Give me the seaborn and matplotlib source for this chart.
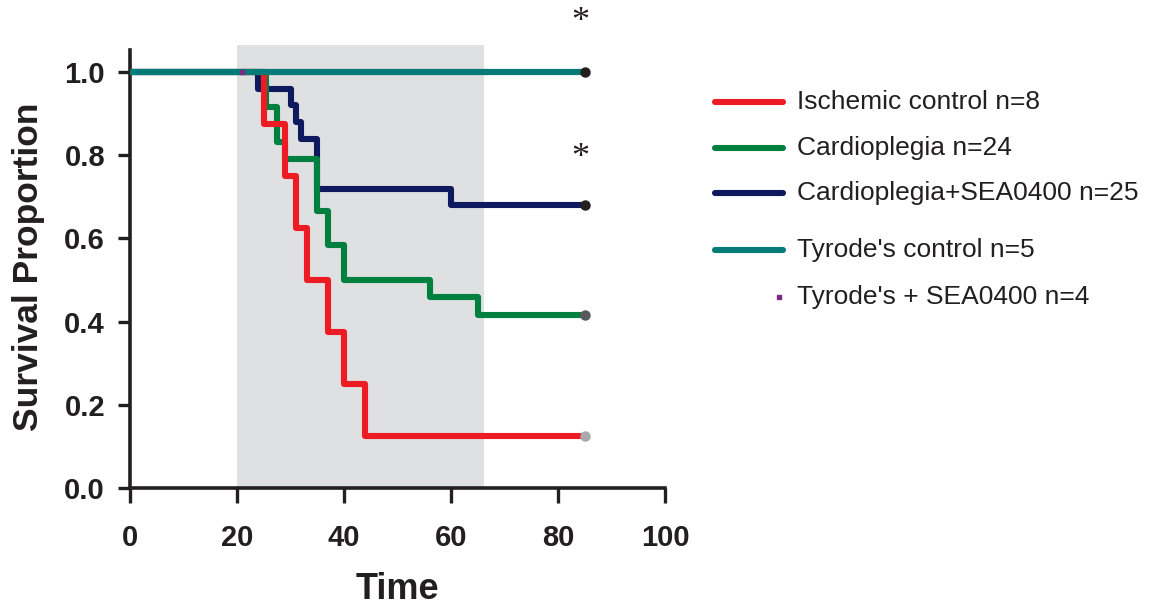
import matplotlib
matplotlib.use("Agg")
import matplotlib.pyplot as plt
from matplotlib.lines import Line2D
import seaborn as sns
import pandas as pd

# ---- data ----
groups = ["Ischemic control n=8", "Cardioplegia n=24", "Cardioplegia+SEA0400 n=25",
          "Tyrode's control n=5", "Tyrode's + SEA0400 n=4"]
isch_t = [0, 25, 29, 31, 33, 37, 40, 44, 85]
isch_s = [1.0, 0.875, 0.75, 0.625, 0.5, 0.375, 0.25, 0.125, 0.125]
card_t = [0, 25.5, 27.5, 29, 35, 37, 40, 56, 65, 85]
card_s = [1.0, 0.917, 0.833, 0.792, 0.667, 0.583, 0.5, 0.458, 0.417, 0.417]
sea_t = [0, 24, 30, 31, 32, 35, 60, 85]
sea_s = [1.0, 0.96, 0.92, 0.88, 0.84, 0.72, 0.68, 0.68]
tyr_t = [0, 85]
tyr_s = [1.0, 1.0]
tyrsea_t = [0, 85]
tyrsea_s = [1.0, 1.0]
tyrsea_censor_t = [21]
tyrsea_censor_s = [1.0]
shade_range = [20, 66.2]
x_ticks = [0, 20, 40, 60, 80, 100]
y_ticks = [0.0, 0.2, 0.4, 0.6, 0.8, 1.0]
star_x = [84.1, 84.1]
star_y = [1.12, 0.793]

colors = ["#ED1C24", "#00803F", "#0F1A5E", "#037B77", "#7B2A80"]
end_colors = ["#A7A9AC", "#58595B", "#231F20", "#231F20"]

sns.set_style("ticks")
plt.rcParams['font.family'] = ['Liberation Sans', 'DejaVu Sans']

fig = plt.figure(figsize=(11.53, 6.05), dpi=100)
W, H = 1153, 605
ax = fig.add_axes([130 / W, 1 - 488 / H, 535 / W, (488 - 45) / H])

ax.axvspan(shade_range[0], shade_range[1], color="#DFE0E2", lw=0, zorder=0)

lw = 4.4
series = [(isch_t, isch_s), (card_t, card_s), (sea_t, sea_s), (tyr_t, tyr_s)]
# purple line beneath teal
df = pd.DataFrame({"t": tyrsea_t, "s": tyrsea_s})
sns.lineplot(data=df, x="t", y="s", ax=ax, color=colors[4], lw=lw,
             drawstyle="steps-post", estimator=None, sort=False, zorder=2)
zorders = [5, 4, 3, 6]
for i, (t, s) in enumerate(series):
    df = pd.DataFrame({"t": t, "s": s})
    sns.lineplot(data=df, x="t", y="s", ax=ax, color=colors[i], lw=lw,
                 drawstyle="steps-post", estimator=None, sort=False, zorder=zorders[i])
    ax.plot([t[-1]], [s[-1]], "o", color=end_colors[i], ms=6.5, zorder=10,
            clip_on=False)
ax.plot(tyrsea_censor_t, tyrsea_censor_s, "s", color=colors[4], ms=3.5, zorder=11)

for x, y in zip(star_x, star_y):
    ax.text(x, y, "*", ha="center", va="center", fontsize=26,
            family="Liberation Serif", color="#231F20", clip_on=False)

ax.set_xlim(0, 100)
ax.set_ylim(0, 1.065)
ax.set_xticks(x_ticks)
ax.set_yticks(y_ticks)
ax.set_xticklabels([str(v) for v in x_ticks], fontsize=21, fontweight="bold", color="#231F20")
ax.set_yticklabels([f"{v:.1f}" for v in y_ticks], fontsize=21, fontweight="bold", color="#231F20")
ax.tick_params(axis="y", length=9, width=2.4, color="#231F20", pad=9)
ax.tick_params(axis="x", length=11, width=2.4, color="#231F20", pad=15)
for sp in ["top", "right"]:
    ax.spines[sp].set_visible(False)
for sp in ["left", "bottom"]:
    ax.spines[sp].set_linewidth(2.6)
    ax.spines[sp].set_color("#231F20")
ax.spines["left"].set_bounds(0, 1.053)
ax.set_xlabel("Time", fontsize=26, fontweight="bold", color="#231F20", labelpad=14)
ax.set_ylabel("Survival Proportion", fontsize=25.5, fontweight="bold", color="#231F20", labelpad=14)

# legend (manual placement)
rows_y = [102, 148, 193, 250, 297]
for i, (lab, yy) in enumerate(zip(groups, rows_y)):
    fy = 1 - yy / H
    if i < 4:
        fig.add_artist(Line2D([715 / W, 783 / W], [fy, fy], color=colors[i], lw=lw,
                              transform=fig.transFigure))
    else:
        fig.add_artist(Line2D([779 / W], [fy], color=colors[i], marker="s", ms=3.5,
                              ls="none", transform=fig.transFigure))
    fig.text(797 / W, fy, lab, fontsize=19, va="center", ha="left", color="#231F20")

fig.savefig("out.png", dpi=100)
